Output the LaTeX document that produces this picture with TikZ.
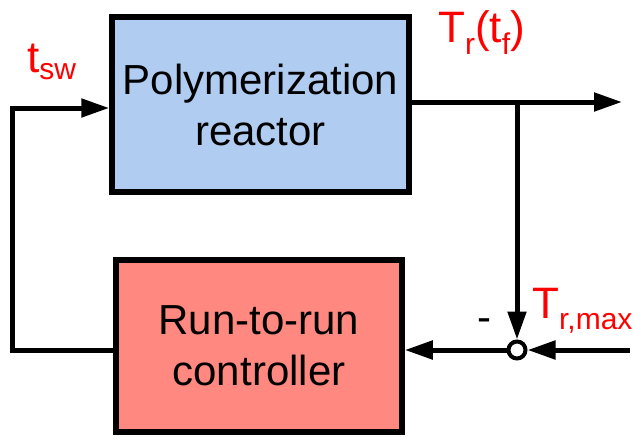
\documentclass[tikz,border=0pt]{standalone}
\usepackage{fontspec}
\setmainfont{Liberation Sans}
\usetikzlibrary{arrows.meta}
\definecolor{boxblue}{RGB}{176,204,241}
\definecolor{boxred}{RGB}{255,136,128}
\definecolor{lblred}{RGB}{255,0,0}
\newcommand{\bigfont}{\fontsize{42}{51}\selectfont}
\newcommand{\lblfont}{\fontsize{44}{44}\selectfont}
\newcommand{\subfont}{\fontsize{30}{30}\selectfont}
\tikzset{
  blockbox/.style={draw=black, line width=5.5pt, inner sep=0pt, align=center,
    font=\bigfont},
  conn/.style={line width=5pt},
  arr/.style={conn, -{Triangle[length=28pt,width=18pt]}},
  lbl/.style={text=lblred, font=\lblfont, inner sep=0pt, anchor=base west},
}
\begin{document}
\begin{tikzpicture}[x=1pt,y=-1pt]
\useasboundingbox (0,0) rectangle (634,437);
\node[blockbox, fill=boxblue, minimum width=297pt, minimum height=175pt] (top) at (260.5,104.5) {Polymerization\\reactor};
\node[blockbox, fill=boxred, minimum width=286pt, minimum height=172pt] (ctrl) at (259,346) {Run-to-run\\controller};
\node[draw=black, fill=white, circle, line width=4pt, minimum size=17pt, inner sep=0pt] (sum) at (517,350) {};
\coordinate (br) at (517,102);
\coordinate (out) at (622,102);
\coordinate (in) at (630,350);
\coordinate (fb) at (12,108);
% connectors
\draw[arr] (top.east |- br) -- (out);
\draw[arr] (br) -- (sum.north);
\draw[arr] (in) -- (sum.east);
\draw[arr] (sum.west) -- (ctrl.east |- sum);
\draw[arr] (ctrl.west |- sum) -| (fb) -- (top.west |- fb);
% labels
\node[lbl] (tsw) at (27,72) {t\raisebox{-7pt}{\subfont sw}};
\node[lbl] (trtf) at (438,42) {T\raisebox{-12pt}{\subfont r}(t\raisebox{-12pt}{\subfont f})};
\node[lbl] (trmax) at (532,318) {T\raisebox{-11pt}{\subfont r,max}};
\node[inner sep=0pt, anchor=base west, font=\bigfont] (minus) at (477,331) {-};
\end{tikzpicture}
\end{document}
